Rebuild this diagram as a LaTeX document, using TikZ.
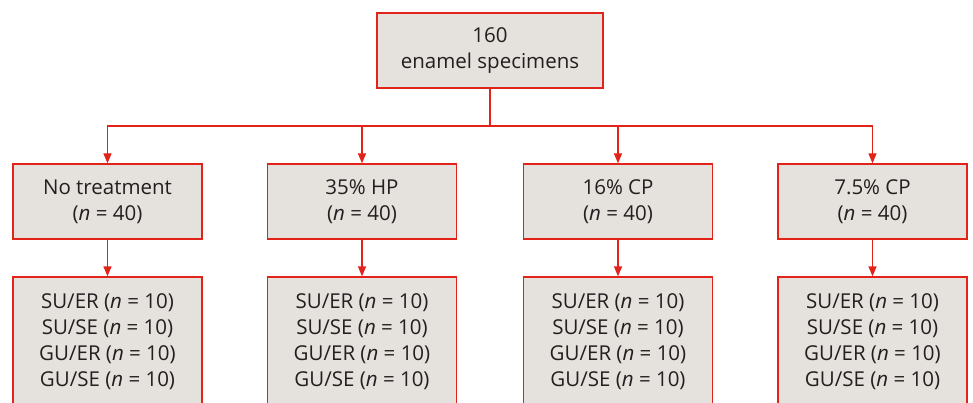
\documentclass[tikz,border=0pt]{standalone}
\usepackage{fontspec}
\setmainfont{Open Sans}
\usetikzlibrary{arrows.meta}
\definecolor{boxred}{HTML}{E2231A}
\definecolor{boxfill}{HTML}{E5E2DE}
\definecolor{txt}{HTML}{231F20}
\begin{document}
\begin{tikzpicture}[x=1pt,y=-1pt,
  box/.style={draw=boxred,fill=boxfill,line width=1.3pt,minimum width=189pt,
    align=center,text=txt,font=\fontsize{20.5}{26}\selectfont,inner sep=0pt},
  arr/.style={draw=boxred,line width=1.3pt,-{Triangle[length=10pt,width=8pt]}},
  ln/.style={draw=boxred,line width=1.3pt}]
\useasboundingbox (0,0) rectangle (973,403);
\begin{scope}
\clip (0,0) rectangle (973,403);
\node[box,minimum width=226pt,minimum height=75pt] (top) at (490,50.5) {160\\enamel specimens};
\foreach \i/\x/\t in {1/107.5/No treatment, 2/362/35\% HP, 3/618/16\% CP, 4/872.5/7.5\% CP} {
  \node[box,minimum height=75pt] (g\i) at (\x,201.5) {\t\\(\textit{n} = 40)};
  \node[box,minimum height=130pt] (s\i) at (\x,342) {SU/ER (\textit{n} = 10)\\SU/SE (\textit{n} = 10)\\GU/ER (\textit{n} = 10)\\GU/SE (\textit{n} = 10)};
  \draw[arr] (g\i) -- (s\i);
}
\coordinate (bus) at (490,126);
\draw[ln] (top.south) -- (bus);
\foreach \i in {1,2,3,4} {\draw[arr] (bus) -| (g\i.north);}
\end{scope}
\end{tikzpicture}
\end{document}
